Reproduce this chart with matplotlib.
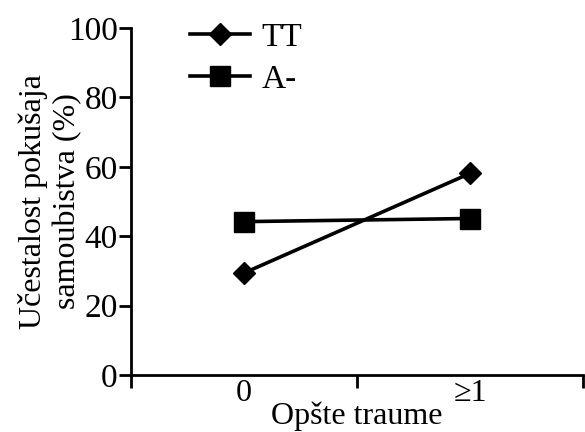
import matplotlib
matplotlib.use("Agg")
import matplotlib.pyplot as plt

categories = ["0", "≥1"]
tt_values = [29.4, 58.1]
a_values = [44.2, 45.1]
series_labels = ["TT", "A-"]
y_ticks = [0, 20, 40, 60, 80, 100]

plt.rcParams['font.family'] = ['Liberation Serif', 'DejaVu Serif']
plt.rcParams['mathtext.fontset'] = 'stix'

fig = plt.figure(figsize=(5.85, 4.32), dpi=100)
ax = fig.add_axes([131/585, 1-375/432, (583-131)/585, (375-28)/432])

x = list(range(len(categories)))
ax.plot(x, tt_values, color='black', lw=2.6, marker='D', markersize=11, label=series_labels[0])
ax.plot(x, a_values, color='black', lw=2.6, marker='s', markersize=14, label=series_labels[1])

ax.set_xlim(-0.5, 1.5)
ax.set_ylim(0, 100)
ax.set_yticks(y_ticks)
ax.set_xticks([-0.5, 0.5, 1.5])
ax.set_xticklabels([])
ax.set_xticks(x, minor=True)
ax.set_xticklabels(categories, minor=True)
ax.tick_params(axis='x', which='minor', length=0, labelsize=23, pad=3)
ax.tick_params(axis='x', which='major', length=9, width=2, direction='out')
ax.tick_params(axis='y', length=9, width=2, direction='out', labelsize=24, pad=0.5)

for s in ['top', 'right']:
    ax.spines[s].set_visible(False)
for s in ['left', 'bottom']:
    ax.spines[s].set_linewidth(2)

ax.set_xlabel("Opšte traume", fontsize=23, labelpad=-5)
ax.set_ylabel("Učestalost pokušaja\nsamoubistva (%)", fontsize=23, labelpad=-10, linespacing=1.2)

ax.legend(loc='upper left', bbox_to_anchor=(190/585, 1-22/432), bbox_transform=fig.transFigure,
          frameon=False, fontsize=24, handlelength=1.8, handletextpad=0.35,
          labelspacing=0.35, borderpad=0, borderaxespad=0, markerscale=1.0)

fig.savefig("out.png", dpi=100)
